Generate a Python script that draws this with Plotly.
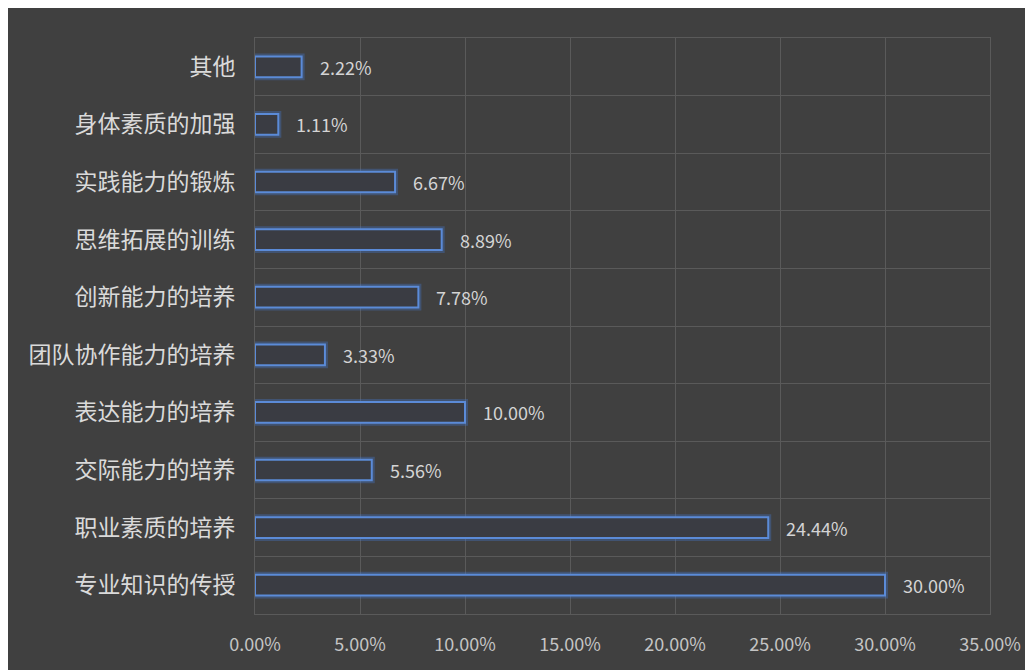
import plotly.graph_objects as go

categories = ["其他", "身体素质的加强", "实践能力的锻炼", "思维拓展的训练", "创新能力的培养",
              "团队协作能力的培养", "表达能力的培养", "交际能力的培养", "职业素质的培养", "专业知识的传授"]
values = [2.22, 1.11, 6.67, 8.89, 7.78, 3.33, 10.00, 5.56, 24.44, 30.00]
x_ticks = [0, 5, 10, 15, 20, 25, 30, 35]
x_ticklabels = ["0.00%", "5.00%", "10.00%", "15.00%", "20.00%", "25.00%", "30.00%", "35.00%"]

# page body keeps its default 8px margin, which gives the light strip at top/left
W, H = 1025, 662
ML, MR, MT, MB = 247, 40, 30, 56
BG = "#404040"
GRID = "#5a5a5a"
FONT = "Noto Sans CJK SC"

fig = go.Figure()
# glow
fig.add_trace(go.Bar(
    y=categories, x=values, orientation="h", width=0.36,
    marker=dict(color="rgba(0,0,0,0)", line=dict(color="rgba(70,120,205,0.35)", width=6)),
    hoverinfo="skip", showlegend=False))
# main bar
fig.add_trace(go.Bar(
    y=categories, x=values, orientation="h", width=0.36,
    marker=dict(color="#3a3c43", line=dict(color="#5b8bd8", width=2)),
    showlegend=False))

annotations = []
for c, v in zip(categories, values):
    annotations.append(dict(x=v, y=c, xref="x", yref="y", text=f"{v:.2f}%",
                            showarrow=False, xanchor="left", xshift=16,
                            font=dict(family=FONT, size=18, color="#d4d4d4")))

fig.update_layout(
    width=W, height=H,
    margin=dict(l=ML, r=MR, t=MT, b=MB),
    paper_bgcolor=BG, plot_bgcolor="rgba(0,0,0,0)",
    barmode="overlay",
    annotations=annotations,
    font=dict(family=FONT),
    xaxis=dict(range=[0, 35], tickvals=x_ticks, ticktext=x_ticklabels,
               showgrid=True, gridcolor=GRID, gridwidth=1, zeroline=False,
               showline=True, linecolor=GRID, mirror=True,
               ticks="", ticklabelstandoff=14,
               tickfont=dict(family=FONT, size=18, color="#c4c4c4")),
    yaxis=dict(type="category", categoryorder="array", categoryarray=categories,
               range=[len(categories) - 0.5, -0.5],
               tickson="boundaries", showgrid=True, gridcolor=GRID, gridwidth=1,
               showline=True, linecolor=GRID, mirror=True,
               ticks="", ticklabelstandoff=14,
               tickfont=dict(family=FONT, size=23, color="#dadada")),
)

fig.write_html("out.html")
